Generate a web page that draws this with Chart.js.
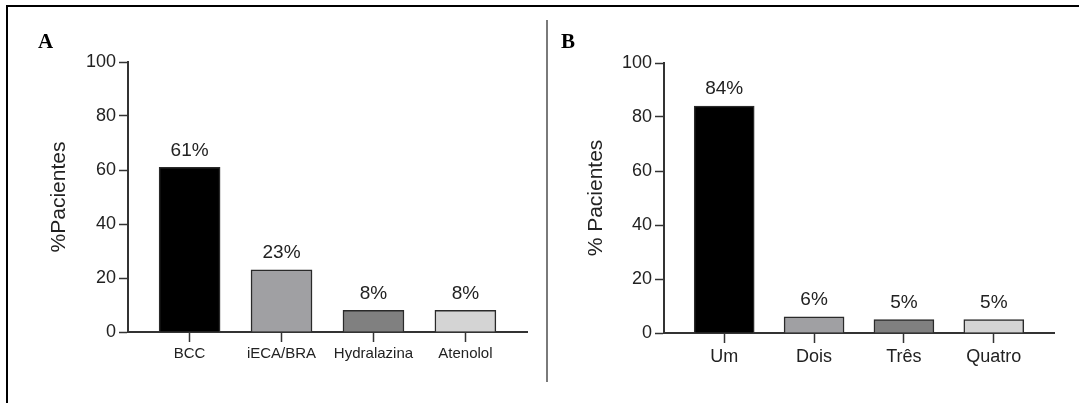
<!DOCTYPE html>
<html>
<head>
<meta charset="utf-8">
<script src="https://cdn.jsdelivr.net/npm/chart.js@4.4.0/dist/chart.umd.min.js"></script>
<style>
  body { margin: 0; background: #fff; width: 1079px; height: 403px; overflow: hidden; position: relative; }
  .moldura { position: absolute; left: 6px; top: 5px; width: 1100px; height: 420px; border-top: 2px solid #000; border-left: 2px solid #000; }
  .divisoria { position: absolute; left: 546px; top: 20px; width: 2px; height: 362px; background: #7a7a7a; }
  .letra { position: absolute; top: 31px; font: bold 21px "Liberation Serif", "Times New Roman", serif; line-height: 1; color: #000; }
  canvas { position: absolute; top: 0; }
</style>
</head>
<body>
<div class="moldura"></div>
<div class="divisoria"></div>
<canvas id="graficoA" width="540" height="403" style="left:0px"></canvas>
<canvas id="graficoB" width="539" height="403" style="left:540px"></canvas>
<div class="letra" style="left:38px">A</div>
<div class="letra" style="left:561px">B</div>

<script>
// dados
const categoriasA = ['BCC', 'iECA/BRA', 'Hydralazina', 'Atenolol']
const valoresA = [61, 23, 8, 8]
const categoriasB = ['Um', 'Dois', 'Três', 'Quatro']
const valoresB = [84, 6, 5, 5]
const ticksY = [0, 20, 40, 60, 80, 100]
const coresBarras = ['#000000', '#a0a0a3', '#808080', '#d4d4d4']

Chart.defaults.font.family = '"Liberation Sans", Arial, sans-serif'
Chart.defaults.color = '#222'

// escreve o % em cima de cada barra
const rotulosValores = {
  id: 'rotulosValores',
  afterDatasetsDraw(chart) {
    const ctx = chart.ctx
    const meta = chart.getDatasetMeta(0)
    ctx.save()
    ctx.font = '19px "Liberation Sans", Arial, sans-serif'
    ctx.fillStyle = '#222'
    ctx.textAlign = 'center'
    ctx.textBaseline = 'middle'
    meta.data.forEach((barra, i) => {
      ctx.fillText(chart.data.datasets[0].data[i].y + '%', barra.x, barra.y - 17)
    })
    ctx.restore()
  }
}

function criaGrafico(canvas, categorias, valores, tituloY, tamanhoX, padding, larguraY, espessura) {
  return new Chart(canvas, {
    type: 'bar',
    data: {
      datasets: [{
        data: valores.map((v, i) => ({ x: i, y: v })),
        backgroundColor: coresBarras,
        borderColor: '#2a2a2a',
        borderWidth: 1.5,
        barThickness: espessura
      }]
    },
    options: {
      responsive: false,
      animation: false,
      layout: { padding: padding },
      plugins: { legend: { display: false }, tooltip: { enabled: false } },
      scales: {
        x: {
          type: 'linear',
          min: -0.67,
          max: 3.67,
          offset: false,
          afterBuildTicks: scale => { scale.ticks = categorias.map((c, i) => ({ value: i })) },
          afterFit: scale => { scale.height = 40 },
          ticks: {
            callback: value => categorias[value],
            font: { size: tamanhoX },
            padding: 3,
            maxRotation: 0,
            autoSkip: false
          },
          grid: { offset: false, drawOnChartArea: false, tickLength: 10, tickColor: '#333', tickWidth: 1.5 },
          border: { color: '#333', width: 2 }
        },
        y: {
          min: 0,
          max: 100,
          afterBuildTicks: scale => { scale.ticks = ticksY.map(v => ({ value: v })) },
          afterFit: scale => { scale.width = larguraY },
          ticks: { font: { size: 18 }, padding: 3 },
          grid: { drawOnChartArea: false, tickLength: 9, tickColor: '#333', tickWidth: 1.5 },
          border: { color: '#333', width: 2 },
          title: {
            display: true,
            text: tituloY,
            font: { size: 21 },
            color: '#222',
            padding: { top: 7, bottom: 0 }
          }
        }
      }
    },
    plugins: [rotulosValores]
  })
}

const graficoA = criaGrafico(document.getElementById('graficoA'), categoriasA, valoresA, '%Pacientes', 15,
  { left: 40, top: 62, right: 13, bottom: 31 }, 88, 61)

const graficoB = criaGrafico(document.getElementById('graficoB'), categoriasB, valoresB, '% Pacientes', 18,
  { left: 37, top: 63, right: 25, bottom: 30 }, 87, 60)
</script>
</body>
</html>
